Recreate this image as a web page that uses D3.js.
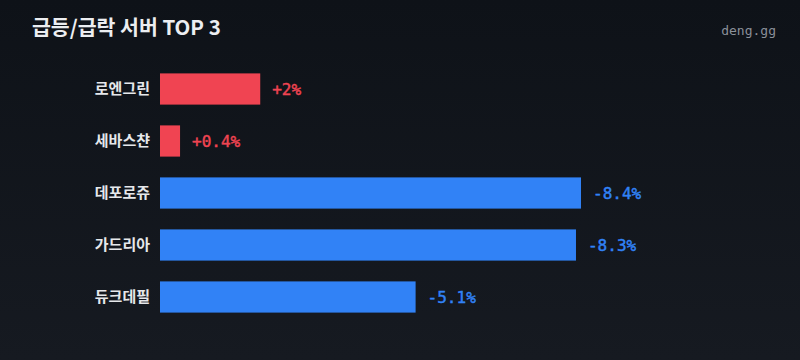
<!DOCTYPE html>
<html><head><meta charset="utf-8">
<script src="https://cdn.jsdelivr.net/npm/d3@7"></script>
<style>
html,body{margin:0;padding:0;background:#11151c;}
svg{display:block;}
</style></head>
<body>
<svg id="c" width="800" height="360"></svg>
<script>
const categories = ["로엔그린", "세바스챤", "데포로쥬", "가드리아", "듀크데필"];
const changes = [2, 0.4, -8.4, -8.3, -5.1];
const valueLabels = ["+2%", "+0.4%", "-8.4%", "-8.3%", "-5.1%"];
const title = "급등/급락 서버 TOP 3";
const brand = "deng.gg";

const W = 800, H = 360;
const svg = d3.select("#c");
const defs = svg.append("defs");
const g = defs.append("linearGradient").attr("id","bg").attr("x1",0).attr("y1",0).attr("x2",0).attr("y2",1);
g.append("stop").attr("offset","0%").attr("stop-color","#0e1218");
g.append("stop").attr("offset","100%").attr("stop-color","#161a21");
svg.append("rect").attr("width",W).attr("height",H).attr("fill","url(#bg)");

svg.append("text").attr("x",32).attr("y",35)
  .attr("font-family","'Noto Sans CJK KR', 'Noto Sans', sans-serif")
  .attr("font-weight",700).attr("font-size",20.5).attr("fill","#eceef1")
  .text(title);
svg.append("text").attr("x",776).attr("y",35).attr("text-anchor","end")
  .attr("font-family","'DejaVu Sans Mono', monospace")
  .attr("font-size",13).attr("fill","#8b9099")
  .text(brand);

const left = 160;
const x = d3.scaleLinear().domain([0, 8.4]).range([0, 421]);
const y = d3.scaleBand().domain(categories).range([63, 323]).paddingInner(0.4).paddingOuter(0.2);

const rows = svg.append("g").selectAll("g").data(categories).join("g")
  .attr("transform", d => `translate(0,${y(d)})`);

rows.append("rect")
  .attr("x", left).attr("y", 0)
  .attr("width", (d,i) => x(Math.abs(changes[i])))
  .attr("height", y.bandwidth())
  .attr("fill", (d,i) => changes[i] >= 0 ? "#f04452" : "#3182f6");

rows.append("text")
  .attr("x", 150).attr("y", y.bandwidth()/2).attr("dy","0.36em")
  .attr("text-anchor","end")
  .attr("font-family","'Noto Sans CJK KR', sans-serif")
  .attr("font-weight",700).attr("font-size",15).attr("fill","#e6e8eb")
  .text(d => d);

rows.append("text")
  .attr("x", (d,i) => left + x(Math.abs(changes[i])) + 12)
  .attr("y", y.bandwidth()/2).attr("dy","0.36em")
  .attr("font-family","'DejaVu Sans Mono', monospace")
  .attr("font-weight",400).attr("font-size",16)
  .attr("fill", (d,i) => changes[i] >= 0 ? "#f04452" : "#3182f6")
  .attr("stroke", (d,i) => changes[i] >= 0 ? "#f04452" : "#3182f6")
  .attr("stroke-width", 0.45)
  .text((d,i) => valueLabels[i]);
</script>
</body></html>
